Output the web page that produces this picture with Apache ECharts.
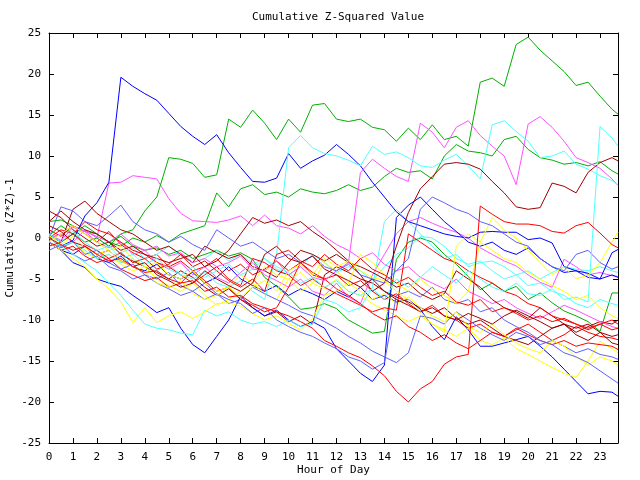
<!DOCTYPE html>
<html><head><meta charset="utf-8">
<script src="https://cdn.jsdelivr.net/npm/echarts@6/dist/echarts.min.js"></script>
<style>html,body{margin:0;padding:0;background:#fff}#c{width:640px;height:480px}</style>
</head><body><div id="c"></div>
<script>
const HOURS=[0,0.5,1,1.5,2,2.5,3,3.5,4,4.5,5,5.5,6,6.5,7,7.5,8,8.5,9,9.5,10,10.5,11,11.5,12,12.5,13,13.5,14,14.5,15,15.5,16,16.5,17,17.5,18,18.5,19,19.5,20,20.5,21,21.5,22,22.5,23,23.5,23.75];
const X_TICKS=[0,1,2,3,4,5,6,7,8,9,10,11,12,13,14,15,16,17,18,19,20,21,22,23];
const Y_TICKS=[-25,-20,-15,-10,-5,0,5,10,15,20,25];

const R1=[1.0,0.2,1.5,0.5,-0.5,0.8,-0.8,-1.8,-2.5,-2.0,-3.5,-2.8,-4.0,-3.5,-2.5,-4.0,-3.2,-4.5,-3.8,-2.8,-4.0,-3.0,-4.2,-5.0,-4.5,-5.8,-5.2,-6.5,-7.5,-6.8,-8.0,-9.0,-8.2,-9.5,-10.0,-11.0,-10.5,-11.5,-12.0,-11.2,-10.5,-11.5,-12.5,-11.8,-10.8,-11.5,-12.0,-12.2,-12.4];
const R2=[-0.5,-1.5,-1.0,-2.2,-3.0,-2.5,-3.8,-4.5,-5.2,-4.8,-6.0,-5.5,-4.0,-5.2,-6.5,-6.0,-7.5,-8.2,-9.0,-8.5,-6.0,-3.0,-4.5,-5.0,-6.2,-7.0,-8.0,-9.2,-10.0,-9.5,-10.8,-11.5,-12.5,-11.8,-12.8,-13.5,-12.5,-11.5,-12.0,-11.0,-11.8,-12.5,-13.0,-12.5,-13.2,-12.8,-13.0,-13.2,-13.6];
const R3=[0,1.0,0.5,2.0,1.0,0.5,-0.5,-1.5,-2.0,-3.0,-3.5,-4.5,-5.5,-4.5,-3.5,-5.0,-5.8,-2.5,-3.0,-4.0,-4.5,-5.8,-5.0,-6.0,-6.8,-7.5,-8.2,-9.0,-8.5,-8.8,0.5,-0.5,-1.5,-2.5,-3.0,-4.0,-4.8,-5.5,-6.5,-7.0,-8.0,-8.5,-9.5,-10.0,-10.5,-11.0,-10.5,-11.2,-11.0];
const R4=[-1.0,-0.5,0.5,-0.8,-1.5,-2.5,-1.8,-3.0,-2.5,-3.8,-3.2,-2.0,-3.5,-2.8,-4.0,-5.2,-6.0,-5.0,-6.5,-2.0,-1.5,-2.8,-3.5,-2.0,-3.2,-4.0,-2.5,-3.8,-4.5,-5.5,-4.8,-6.0,-7.0,-6.5,-7.8,-8.2,-7.5,-9.0,-8.5,-9.2,-10.0,-9.5,-10.2,-9.8,-10.5,-11.2,-10.5,-10.0,-10.5];
const K_RED=[0,-0.8,-1.5,-1.0,-2.0,-2.8,-2.5,-3.5,-4.2,-4.0,-5.0,-5.5,-5.2,-6.5,-6.0,-7.2,-7.0,-8.0,-8.5,-9.0,-9.5,-10.2,-11.0,-12.5,-13.2,-14.0,-14.6,-15.6,-16.8,-18.7,-20.0,-18.4,-17.5,-15.4,-14.5,-14.2,3.9,2.9,2.0,1.7,1.7,1.5,0.8,0.6,1.5,1.9,0.6,-0.8,-1.2];

const G_TOP=[0.5,-0.5,0.5,-0.5,0,-1,0.5,1.0,3.3,5.0,9.8,9.6,9.1,7.4,7.7,14.5,13.5,15.6,14.0,12.0,14.5,12.9,16.2,16.4,14.5,14.2,14.5,13.5,13.2,11.8,13.4,12.0,13.8,12.0,12.4,11.2,19.0,19.5,18.5,23.6,24.5,22.9,21.6,20.3,18.6,19.0,17.3,15.7,15.1];
const G_MID=[0.3,1.5,0.5,1.5,0.5,-0.5,-1,0,-0.5,0.3,-0.5,0.5,1.0,1.5,5.5,3.8,6.0,6.5,5.3,5.6,5.0,6.0,5.6,5.4,5.8,6.5,5.8,6.2,7.5,8.5,8.0,8.2,7.2,10.0,11.4,10.6,10.4,10.0,12.0,12.4,10.8,9.8,9.5,9.0,9.2,8.8,9.3,8.2,7.8];
const G_LOW=[2.0,2.2,1.5,0.8,0.5,-0.5,0.2,-1.0,-1.5,-1.2,-2.0,-1.5,-2.5,-2.0,-1.5,-2.2,-1.8,-2.6,-4.8,-5.9,-7.2,-8.7,-8.5,-8.0,-8.6,-10.0,-10.8,-11.6,-11.4,-2.6,-0.5,0,-0.5,-2.0,-3.2,-4.7,-6.3,-5.5,-6.5,-5.9,-7.5,-6.7,-7.9,-8.9,-9.5,-10.2,-11.4,-6.7,-6.7];

const B_PEAK=[0,-1.0,-0.3,2.7,4.3,6.8,19.6,18.5,17.6,16.8,15.2,13.6,12.4,11.4,12.6,10.4,8.6,6.9,6.8,7.3,10.3,8.5,9.4,10.1,11.4,10.2,8.8,6.8,5.0,3.2,2.0,1.5,1.0,0.5,0.2,0.0,0.7,0.8,0.7,0.7,-0.2,0.0,-0.6,-3.5,-4.0,-4.3,-5.0,-1.8,-1.4];
const B_LOW=[-0.5,-1.5,-2.0,-1.0,-2.5,-3.0,-2.2,-3.5,-4.0,-3.2,-4.5,-5.0,-4.2,-5.5,-4.8,-3.5,-5.0,-5.8,-6.5,-5.8,-7.0,-6.2,-6.8,-7.5,-6.5,-7.2,-6.0,-7.5,-7.0,-7.8,-7.5,-8.7,-10.8,-12.4,-9.6,-11.2,-13.2,-13.2,-12.8,-12.4,-12.0,-13.2,-14.5,-16.0,-17.5,-19.0,-18.7,-18.8,-19.3];
const B_DIP=[-0.5,-1.5,-3.0,-3.6,-5.0,-5.5,-5.9,-7.0,-8.0,-9.1,-8.5,-11.0,-13.0,-14.0,-12.0,-10.0,-7.1,-8.5,-9.5,-8.8,-10.0,-10.8,-10.2,-11.0,-13.5,-15.0,-16.5,-17.5,-15.5,2.5,4.0,5.0,3.5,2.0,0.8,-0.5,-1.0,-0.5,-1.5,-2.0,-1.2,-2.5,-3.5,-4.2,-4.0,-4.8,-5.0,-4.5,-4.8];

const M_HIGH=[0,0.5,-0.5,1.0,0,6.7,6.8,7.6,7.4,7.2,4.8,3.0,2.1,2.0,1.9,2.2,2.7,1.5,2.8,1.5,1.2,0.5,1.5,0.2,-0.8,-1.5,-2.5,-1.8,-3.2,-4.0,-3.5,-4.8,-5.5,-6.2,-5.0,-6.5,-7.2,-8.0,-7.5,-8.5,-9.2,-9.8,-9.0,-8.2,-8.8,-9.5,-10.2,-10.8,-11.0];
const M_JUMP=[0.5,-0.3,1.3,0.8,0.2,-0.5,0.5,-0.8,-1.5,-1.0,-2.2,-1.8,-3.0,-2.5,-3.5,-3.0,-2.2,-3.8,-4.0,-2.8,-4.5,-3.5,-4.8,-5.2,-4.0,-3.0,8.0,9.6,8.5,7.5,6.9,14.0,12.9,11.0,13.5,14.3,12.5,11.2,10.0,6.5,13.9,14.8,13.5,11.8,9.8,9.2,8.5,7.2,6.4];
const M_MID=[-0.3,0.5,1.5,0.8,-0.5,-1.2,-0.5,-2.0,-1.5,-3.0,-3.8,-3.0,-4.5,-3.5,-4.8,-5.5,-4.2,-3.0,-4.5,-5.2,-6.0,-5.0,-6.5,-7.0,-5.5,-7.2,-8.0,-4.5,-2.0,0.5,2.0,2.5,1.8,1.2,0.7,0.0,-1.2,-2.0,-2.8,-3.4,-4.5,-5.4,-6.0,-2.6,-3.5,-4.5,-4.2,-4.6,-4.7];

const C_HIGH=[0,-1.0,-0.5,-1.5,-2.5,-2.0,-3.0,-2.5,-3.5,-4.0,-3.2,-4.5,-5.0,-4.2,-5.5,-6.0,-5.2,-6.5,-7.5,-2.0,11.0,12.5,11.0,10.3,10.0,9.5,8.8,11.2,10.2,10.5,9.8,8.8,8.6,9.5,10.2,8.8,7.2,13.8,14.3,13.0,11.8,9.8,10.0,10.6,9.0,8.4,7.6,7.0,6.5];
const C_LATE=[0.5,-0.5,0.8,-0.5,-1.5,-1.0,-2.5,-2.0,-3.2,-2.5,-3.8,-4.5,-3.5,-4.8,-4.0,-3.2,-4.5,-3.8,-2.5,-3.5,-4.2,-5.5,-4.8,-6.0,-5.2,-6.5,-7.0,-6.2,-7.5,-5.0,-6.0,-4.8,-3.5,-4.5,-5.5,-4.0,-5.0,-6.0,-6.5,-5.5,-6.8,-7.0,-6.2,-7.5,-7.2,-7.8,13.6,12.2,11.2];
const C_LOW=[0,-1,-2,-3,-4,-5.5,-7,-8.8,-10.5,-11.0,-11.2,-11.6,-11.8,-8.8,-9.5,-9.0,-10.0,-10.5,-10.2,-10.8,-10.0,-10.8,-10.5,-7.5,-8.0,-9.0,-8.5,-6.0,2.0,3.5,2.0,0.5,-1.0,-2.5,-2.0,-3.5,-3.0,-2.8,-3.5,-4.5,-4.0,-5.0,-4.2,-3.5,-3.8,-4.0,-3.5,-4.0,-4.2];
const C_MID=[0.2,-0.5,0.5,1.0,0.0,-1.0,-1.8,-1.2,-2.5,-2.0,-1.0,-2.2,-3.0,-2.5,-1.5,-2.8,-2.0,-3.2,-2.5,-3.8,-4.5,-3.5,-2.0,-3.0,-4.2,-3.5,-4.0,-5.2,-3.5,-2.0,-1.2,0.2,0.0,-1.0,-2.5,-3.2,-2.8,-4.0,-5.0,-4.5,-5.8,-5.5,-6.5,-7.0,-8.0,-8.5,-7.5,-8.0,-8.2];

const D_RISE=[2.0,3.3,2.0,1.0,0.5,-0.5,-1.5,-1.0,-2.0,-2.5,-3.0,-2.5,-2.0,-3.5,-2.8,-1.5,0.5,2.5,1.8,2.2,1.5,2.0,0.8,-0.2,-1.5,-2.8,-4.5,-6.5,-5.5,-1.0,3.1,6.0,7.5,9.0,9.2,9.0,8.4,6.9,5.5,3.8,3.5,3.7,6.7,6.3,5.5,8.0,9.2,9.8,9.4];
const D_TWO=[3.3,2.5,1.0,0.0,-1.0,-0.5,-2.0,-2.8,-3.5,-4.2,-5.0,-4.0,-4.8,-6.0,-7.0,-6.2,-7.5,-8.5,-9.5,-9.0,-10.2,-9.5,-10.5,-4.5,-3.5,-4.2,-5.0,-5.5,-6.5,-7.2,-7.8,-8.5,-9.2,-8.5,-9.8,-10.5,-10.0,-11.0,-12.0,-12.5,-13.0,-12.0,-11.0,-10.5,-11.5,-10.8,-10.2,-10.5,-10.0];
const D_THREE=[0.5,-0.5,3.5,4.5,3.0,2.0,1.0,0.5,-0.5,-1.5,-1.0,-2.0,-3.0,-1.0,-1.8,-2.5,-2.0,-3.5,-4.0,-4.8,-3.0,-1.5,-2.0,-2.8,-2.0,-3.0,-3.5,-4.2,-5.0,-6.0,-5.5,-6.8,-7.5,-6.8,-4.0,-5.0,-6.0,-7.5,-8.5,-9.0,-9.8,-8.5,-9.5,-10.5,-11.0,-10.5,-11.5,-12.0,-11.8];
const D_FOUR=[1.5,0.8,-0.5,-1.0,-2.0,-1.5,-2.8,-3.5,-3.0,-4.5,-5.2,-6.0,-5.5,-4.0,-5.0,-5.8,-6.5,-5.5,-2.0,-1.0,-2.5,-3.0,-2.2,-3.8,-4.5,-5.2,-6.0,-5.0,-6.5,-7.5,-8.2,-9.0,-8.5,-9.5,-10.0,-9.2,-9.8,-10.5,-9.5,-8.8,-9.5,-10.2,-11.0,-10.5,-11.8,-12.5,-11.5,-12.8,-13.0];

const Y_LOW=[0,-1.0,-0.5,-1.8,-2.5,-2.0,-3.2,-4.0,-3.5,-5.0,-5.8,-6.5,-5.5,-7.0,-8.2,-7.5,-6.5,-5.5,-6.8,-7.5,-5.0,-4.2,-5.5,-6.2,-5.0,-6.5,-7.0,-8.0,-8.8,-9.5,-10.2,-9.5,-10.5,-11.2,-12.0,-11.0,-12.5,-13.0,-12.2,-13.5,-14.2,-15.0,-15.8,-16.5,-17.0,-15.0,-12.6,-13.5,-14.0];
const Y_UP=[-0.5,0.5,1.5,0.5,-0.5,-1.5,-1.0,-2.5,-3.5,-3.0,-4.5,-5.0,-4.0,-5.5,-6.5,-6.0,-4.5,-5.5,-3.5,-4.5,-5.0,-6.5,-5.5,-3.0,-4.0,-5.5,-2.0,-3.0,-4.5,-5.5,-6.5,-5.0,-6.2,-7.0,-8.0,-6.5,-0.5,2.5,1.0,0.0,-1.5,-3.0,-4.5,-3.5,-5.0,-4.5,-3.0,-0.5,0.7];
const Y_FAST=[-0.5,-1.5,-2.5,-3.5,-5.0,-6.2,-7.8,-10.3,-8.5,-10.3,-9.5,-9.0,-9.8,-9.0,-8.0,-7.9,-8.3,-9.2,-10.0,-9.5,-10.4,-11.2,-9.8,-7.0,-6.5,-5.5,-6.5,-7.5,-6.8,-8.0,-7.2,-8.5,-9.5,-10.2,-9.0,-10.8,-11.5,-10.5,-11.8,-12.8,-13.5,-14.0,-12.5,-13.2,-14.5,-15.5,-14.5,-15.0,-15.5];
const Y_MID=[0.3,-0.8,0.2,-1.2,-2.0,-1.5,-2.8,-3.5,-4.2,-5.5,-6.0,-5.2,-6.8,-7.5,-7.0,-6.0,-7.2,-6.0,-5.2,-6.5,-4.0,-3.2,-4.5,-2.5,-3.5,-2.8,-4.0,-4.8,-5.2,-6.5,-7.5,-9.0,-10.5,-11.5,-1.0,0.5,-0.5,-1.5,-2.5,-3.0,-4.2,-5.0,-5.8,-6.5,-7.5,-7.0,-8.5,-9.5,-9.8];

const S_LOW=[-0.5,-1.2,-0.5,-2.0,-1.5,-3.0,-3.8,-3.2,-4.5,-5.0,-4.2,-5.8,-6.5,-5.5,-6.8,-7.5,-8.0,-9.2,-8.5,-10.0,-10.8,-11.5,-12.0,-12.8,-13.5,-14.5,-15.0,-16.0,-15.2,-7.0,-6.5,-7.2,-6.0,-7.5,-8.0,-7.5,-9.0,-8.5,-10.0,-10.8,-11.5,-12.5,-13.0,-14.0,-14.5,-15.2,-16.2,-17.2,-17.7];
const S_TOP=[0,3.8,3.3,2.0,1.5,2.7,4.0,2.0,1.0,0.5,-0.5,0.2,-0.8,-1.5,1.0,0.0,-1.0,-0.5,-1.5,-2.5,-2.0,-3.0,-2.2,-3.5,-4.0,-3.2,-4.5,-5.0,-5.5,-4.0,-2.5,3.5,5.0,4.3,3.5,3.0,2.0,1.5,0.5,-0.5,-1.0,-2.5,-3.5,-4.0,-2.0,-1.5,-3.0,-3.8,-3.5];
const S_MID=[-1.5,-0.8,-2.0,-2.8,-2.2,-3.5,-4.0,-5.0,-4.5,-5.5,-6.2,-7.0,-6.5,-7.5,-6.8,-8.0,-7.5,-6.0,-6.8,-7.5,-8.2,-9.0,-9.5,-10.2,-11.0,-12.0,-12.8,-13.8,-14.5,-15.2,-14.0,-9.5,-9.8,-10.5,-9.0,-10.0,-11.0,-11.8,-12.5,-11.5,-12.0,-13.0,-12.5,-13.2,-14.0,-13.5,-14.2,-14.5,-14.8];

const RED='#ff0000',GREEN='#00b000',BLUE='#0000ff',MAG='#ff50ff',CYAN='#50ffff',DRED='#a00000',YEL='#ffff00',SLATE='#6060ff';
const LINES=[
 [R1,RED],[G_LOW,GREEN],[B_LOW,BLUE],[M_MID,MAG],[C_MID,CYAN],[D_TWO,DRED],[Y_LOW,YEL],[S_MID,SLATE],
 [R2,RED],[G_MID,GREEN],[B_DIP,BLUE],[M_HIGH,MAG],[C_LOW,CYAN],[D_THREE,DRED],[Y_FAST,YEL],[S_LOW,SLATE],
 [R3,RED],[G_TOP,GREEN],[B_PEAK,BLUE],[M_JUMP,MAG],[C_HIGH,CYAN],[D_RISE,DRED],[Y_UP,YEL],[S_TOP,SLATE],
 [R4,RED],[C_LATE,CYAN],[D_FOUR,DRED],[Y_MID,YEL],[K_RED,RED]
];

const FONT='DejaVu Sans Mono';
const chart=echarts.init(document.getElementById('c'),null,{renderer:'canvas'});
const axisCommon={axisLine:{show:true,onZero:false,lineStyle:{color:'#000',width:1}},splitLine:{show:false},axisTick:{show:true,inside:true,length:5,lineStyle:{color:'#000'}}};
chart.setOption({
 animation:false,
 backgroundColor:'#fff',
 title:{text:'Cumulative Z-Squared Value',left:333,top:7,textAlign:'center',textStyle:{fontFamily:FONT,fontSize:11,fontWeight:'normal',color:'#000'}},
 grid:{left:49,top:33,width:569,height:410,containLabel:false,outerBoundsMode:'none'},
 xAxis:[
  Object.assign({type:'value',min:0,max:23.75,interval:1,position:'bottom',name:'Hour of Day',nameLocation:'middle',nameGap:22,nameMoveOverlap:false,nameTextStyle:{fontFamily:FONT,fontSize:11,color:'#000'},
   axisLabel:{show:true,margin:9,fontFamily:FONT,fontSize:11,color:'#000',showMaxLabel:false,formatter:v=>X_TICKS.includes(v)?String(v):''}},axisCommon),
  Object.assign({type:'value',min:0,max:23.75,interval:1,position:'top',axisLabel:{show:false}},axisCommon)
 ],
 yAxis:[
  Object.assign({type:'value',min:-25,max:25,interval:5,position:'left',name:'Cumulative (Z*Z)-1',nameLocation:'middle',nameGap:33,nameMoveOverlap:false,nameRotate:90,nameTextStyle:{fontFamily:FONT,fontSize:11,color:'#000'},
   axisLabel:{show:true,margin:8,fontFamily:FONT,fontSize:11,color:'#000',formatter:v=>Y_TICKS.includes(v)?String(v):''}},axisCommon),
  Object.assign({type:'value',min:-25,max:25,interval:5,position:'right',axisLabel:{show:false}},axisCommon)
 ],
 series:LINES.map(([vals,col])=>({type:'line',xAxisIndex:0,yAxisIndex:0,showSymbol:false,symbol:'none',silent:true,
   lineStyle:{color:col,width:1},itemStyle:{color:col},data:HOURS.map((h,i)=>[h,vals[i]])}))
});
</script></body></html>
